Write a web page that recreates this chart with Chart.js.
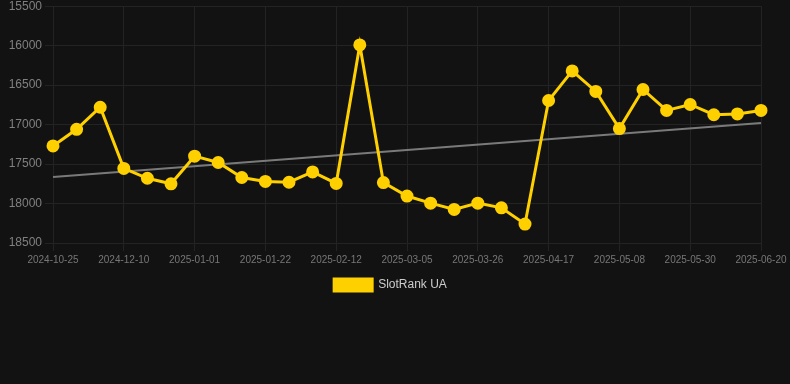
<!DOCTYPE html>
<html>
<head>
<meta charset="utf-8">
<script src="https://cdn.jsdelivr.net/npm/chart.js@4.4.0/dist/chart.umd.min.js"></script>
<style>
  html, body { margin: 0; padding: 0; background: #121212; overflow: hidden; }
  #wrap { width: 790px; height: 388px; position: relative; margin-top: -4px; }
</style>
</head>
<body>
<div id="wrap"><canvas id="myChart"></canvas></div>
<script>
const labels = [
  '2024-10-25', '2024-11-10', '2024-11-25',
  '2024-12-10', '2024-12-17', '2024-12-24',
  '2025-01-01', '2025-01-08', '2025-01-15',
  '2025-01-22', '2025-01-29', '2025-02-05',
  '2025-02-12', '2025-02-19', '2025-02-26',
  '2025-03-05', '2025-03-12', '2025-03-19',
  '2025-03-26', '2025-04-02', '2025-04-09',
  '2025-04-17', '2025-04-24', '2025-05-01',
  '2025-05-08', '2025-05-15', '2025-05-22',
  '2025-05-30', '2025-06-06', '2025-06-13',
  '2025-06-20'
];
const rankValues = [
  17270, 17060, 16780, 17555, 17680, 17750, 17400, 17480, 17670, 17720,
  17730, 17600, 17745, 15990, 17735, 17905, 17995, 18075, 17995, 18055,
  18260, 16695, 16320, 16580, 17050, 16555, 16820, 16745, 16875, 16865,
  16820
];
// trend line end points
const trendStart = 17665;
const trendEnd = 16980;

// nudge the legend a little to the right, like the original
const legendShift = {
  id: 'legendShift',
  afterLayout: (chart) => {
    if (chart.legend) {
      chart.legend.left += 6;
      chart.legend.right += 6;
    }
  }
};

const renderChart = () => {
  const ctx = document.getElementById('myChart');
  new Chart(ctx, {
    type: 'line',
    data: {
      labels: labels,
      datasets: [
        {
          label: 'SlotRank UA',
          data: rankValues,
          borderColor: '#FFD000',
          backgroundColor: '#FFD000',
          borderWidth: 3,
          pointRadius: 5,
          pointHoverRadius: 6,
          tension: 0,
          order: 1
        },
        {
          label: 'trend',
          data: [
            { x: labels[0], y: trendStart },
            { x: labels[labels.length - 1], y: trendEnd }
          ],
          borderColor: '#7a7a7a',
          borderWidth: 2,
          pointRadius: 0,
          tension: 0,
          order: 2
        }
      ]
    },
    plugins: [legendShift],
    options: {
      responsive: true,
      maintainAspectRatio: false,
      animation: false,
      layout: { padding: { left: 8, right: 29, top: 0, bottom: 83 } },
      plugins: {
        legend: {
          position: 'bottom',
          labels: {
            color: '#cccccc',
            boxWidth: 38,
            boxHeight: 12,
            font: { size: 12, family: 'Arial, Liberation Sans, sans-serif' },
            filter: (item) => item.text !== 'trend'
          }
        },
        tooltip: { enabled: false }
      },
      scales: {
        x: {
          grid: {
            color: (c) => (c.index % 3 === 0 ? '#232323' : 'rgba(0,0,0,0)')
          },
          border: { color: '#232323' },
          ticks: {
            color: '#777777',
            autoSkip: false,
            maxRotation: 0,
            font: { size: 10, family: 'Arial, Liberation Sans, sans-serif' },
            callback: function (val, i) {
              return i % 3 === 0 ? this.getLabelForValue(val) : '';
            }
          }
        },
        y: {
          reverse: true,
          min: 15500,
          max: 18500,
          afterFit: (scale) => { scale.width = 45; },
          grid: { color: '#232323' },
          border: { color: '#232323' },
          ticks: {
            stepSize: 500,
            color: '#808080',
            font: { size: 12, family: 'Arial, Liberation Sans, sans-serif' },
            callback: (v) => String(v)
          }
        }
      }
    }
  });
};

window.addEventListener('load', () => {
  renderChart();
});
</script>
</body>
</html>
